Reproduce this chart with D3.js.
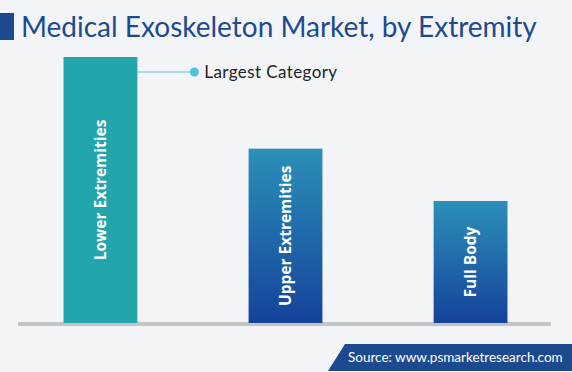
<!DOCTYPE html>
<html>
<head>
<meta charset="utf-8">
<script src="https://cdn.jsdelivr.net/npm/d3@7"></script>
<style>
  body { margin: 0; background: #f2f4f8; }
  svg { display: block; }
</style>
</head>
<body>
<div id="chart"></div>
<script>
// chart data
const categories = ["Lower Extremities", "Upper Extremities", "Full Body"];
const shares = [47.3, 31.0, 21.7];
const highlight = "Lower Extremities";

const width = 572;
const height = 372;
const baseY = 323;
const topY = 57;

var svg = d3.select("#chart")
  .append("svg")
  .attr("width", width)
  .attr("height", height);

svg.append("rect")
  .attr("width", width)
  .attr("height", height)
  .attr("fill", "#f2f4f8");

// gradient for the other bars
var grad = svg.append("defs")
  .append("linearGradient")
  .attr("id", "blueGrad")
  .attr("x1", 0).attr("y1", 0)
  .attr("x2", 0).attr("y2", 1);
grad.append("stop").attr("offset", "0%").attr("stop-color", "#2b90b9");
grad.append("stop").attr("offset", "100%").attr("stop-color", "#15429a");

// title
svg.append("rect")
  .attr("x", 0).attr("y", 13)
  .attr("width", 14).attr("height", 27)
  .attr("fill", "#1d4a8e");

svg.append("text")
  .attr("x", 21)
  .attr("y", 37)
  .attr("font-family", "Lato, sans-serif")
  .attr("font-size", 28)
  .attr("fill", "#1d4a8e")
  .text("Medical Exoskeleton Market, by Extremity");

// scales
var x = d3.scaleBand()
  .domain(categories)
  .range([8, 563])
  .paddingInner(0.601)
  .paddingOuter(0.3);

var y = d3.scaleLinear()
  .domain([0, d3.max(shares)])
  .range([baseY, topY]);

// baseline
svg.append("rect")
  .attr("x", 18)
  .attr("y", baseY - 1)
  .attr("width", 533)
  .attr("height", 4)
  .attr("fill", "#c4c4c6");

// bars
var bars = svg.selectAll(".bar")
  .data(categories)
  .enter()
  .append("g")
  .attr("class", "bar");

bars.append("rect")
  .attr("x", function(d) { return x(d); })
  .attr("y", function(d, i) { return y(shares[i]); })
  .attr("width", x.bandwidth())
  .attr("height", function(d, i) { return baseY - y(shares[i]); })
  .attr("fill", function(d) { return d == highlight ? "#22a6ab" : "url(#blueGrad)"; });

// rotated labels inside bars
bars.append("text")
  .attr("transform", function(d, i) {
    var cx = x(d) + x.bandwidth() / 2;
    var cy = (y(shares[i]) + baseY) / 2;
    return "translate(" + cx + "," + cy + ") rotate(-90)";
  })
  .attr("text-anchor", "middle")
  .attr("dy", "0.35em")
  .attr("font-family", "'Open Sans', sans-serif")
  .attr("font-weight", "bold")
  .attr("font-size", 15.5)
  .attr("fill", "white")
  .text(function(d) { return d; });

// callout for the largest category
var hx = x(highlight) + x.bandwidth();
var hy = y(shares[categories.indexOf(highlight)]) + 15;
svg.append("line")
  .attr("x1", hx).attr("y1", hy)
  .attr("x2", hx + 57).attr("y2", hy)
  .attr("stroke", "#8fd4e2")
  .attr("stroke-width", 1.5);
svg.append("circle")
  .attr("cx", hx + 57).attr("cy", hy)
  .attr("r", 4.5)
  .attr("fill", "#4cc3d6");
svg.append("text")
  .attr("x", hx + 67).attr("y", hy + 6)
  .attr("font-family", "Lato, sans-serif")
  .attr("font-size", 17)
  .attr("letter-spacing", 0.4)
  .attr("fill", "#222")
  .text("Largest Category");

// source box
svg.append("path")
  .attr("d", "M345,344 L572,344 L572,371 L328,371 Z")
  .attr("fill", "#1d4a8e");
svg.append("text")
  .attr("x", 348).attr("y", 362)
  .attr("font-family", "Lato, sans-serif")
  .attr("font-size", 13.5)
  .attr("fill", "white")
  .text("Source: www.psmarketresearch.com");
</script>
</body>
</html>
